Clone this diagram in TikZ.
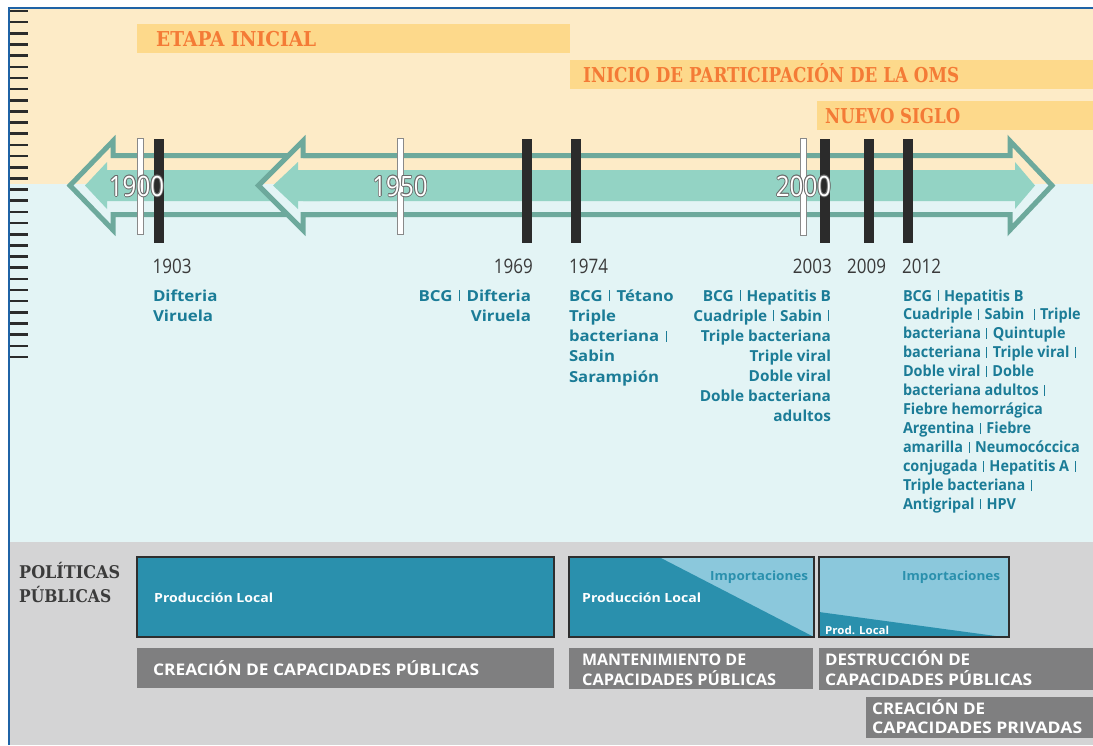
\documentclass[tikz,border=0pt]{standalone}
\usepackage{fontspec}
\usepackage{graphicx}
\setmainfont{Open Sans}
\newfontfamily\slabfont{DejaVu Serif}
\definecolor{bgY}{HTML}{FDEBC7}
\definecolor{bgB}{HTML}{E3F4F5}
\definecolor{bgG}{HTML}{D4D4D5}
\definecolor{bannerC}{HTML}{FDD98B}
\definecolor{orangeT}{HTML}{F47B36}
\definecolor{frameB}{HTML}{1F63A6}
\definecolor{arrowL}{HTML}{6DA99C}
\definecolor{arrowF}{HTML}{93D3C4}
\definecolor{barK}{HTML}{2B2B2B}
\definecolor{vacT}{HTML}{1B7C97}
\definecolor{yearT}{HTML}{3A3A3A}
\definecolor{boxD}{HTML}{2A90AD}
\definecolor{boxL}{HTML}{8BC8DC}
\definecolor{boxK}{HTML}{2E2E2E}
\definecolor{labG}{HTML}{7F7F80}
\definecolor{olc}{HTML}{6B6B6B}
\definecolor{slabT}{HTML}{3B3B3B}
\newcommand\fitw[2]{\resizebox{#1}{\height}{#2}}
\newcommand\vb{\hspace{0.12em}\rule{0.07em}{0.7em}\hspace{0.12em}}
\newcommand\olt[1]{\leavevmode
 \rlap{\color{olc}\hspace*{-1pt}#1}%
 \rlap{\color{olc}\hspace*{1pt}#1}%
 \rlap{\color{olc}\raisebox{1pt}{#1}}%
 \rlap{\color{olc}\raisebox{-1pt}{#1}}%
 \rlap{\color{olc}\hspace*{-0.7pt}\raisebox{0.7pt}{#1}}%
 \rlap{\color{olc}\hspace*{0.7pt}\raisebox{0.7pt}{#1}}%
 \rlap{\color{olc}\hspace*{-0.7pt}\raisebox{-0.7pt}{#1}}%
 \rlap{\color{olc}\hspace*{0.7pt}\raisebox{-0.7pt}{#1}}%
 \textcolor{white}{#1}}
\newcommand\vaccol[7]{%
  \foreach \t [count=\i] in {#7}{%
    \node[vac, anchor=#5] (#1\i) at (#2, #3+#4*\i-#4) {\scalebox{#6}[1]{\t}};}}
\tikzset{
  vac/.style={font=\fontsize{15.2}{18}\selectfont\bfseries, text=vacT, inner sep=0pt, outer sep=0pt},
  yr/.style={font=\fontsize{20}{24}\selectfont, text=yearT, inner sep=0pt},
  ayr/.style={font=\fontsize{28}{32}\selectfont, inner sep=0pt, anchor=base},
  bant/.style={font={\slabfont\fontsize{20.5}{24}\selectfont\bfseries}, text=orangeT, inner sep=0pt, anchor=base west},
  slabl/.style={font={\slabfont\fontsize{17.5}{20}\selectfont\bfseries}, text=slabT, inner sep=0pt, anchor=base west},
  lab/.style={font=\fontsize{16}{19}\selectfont\bfseries, text=white, inner sep=0pt, anchor=base west},
  boxt/.style={font=\fontsize{12.6}{15}\selectfont\bfseries, inner sep=0pt, anchor=base west},
  outl/.style={draw=arrowL, line width=5pt},
  kbar/.style={fill=barK},
  wbar/.style={draw=olc!80, line width=0.8pt, fill=white},
  pframe/.style={draw=boxK, line width=2pt},
}
\begin{document}
\begin{tikzpicture}[x=1pt,y=-1pt]
\useasboundingbox (0,0) rectangle (1093,745);
\fill[white] (0,0) rectangle (1093,745);
% backgrounds
\fill[bgY] (9,8) rectangle (1093,184);
\fill[bgB] (9,184) rectangle (1093,542);
\fill[bgG] (9,542) rectangle (1093,745);
\draw[frameB, line width=2.5pt] (9,745) -- (9,8) -- (1093,8);
% ticks
\foreach \k in {0,...,31}{\draw[barK, line width=2.6pt] (10,11+11.16*\k) -- (28,11+11.16*\k);}
% banners
\fill[bannerC] (137,24) rectangle (570,53);
\fill[bannerC] (570,60) rectangle (1093,89);
\fill[bannerC] (817,101) rectangle (1093,130);
\node[bant] (etapa) at (156,46.5) {\fitw{160pt}{ETAPA INICIAL}};
\node[bant] (oms) at (583,82) {\fitw{376pt}{INICIO DE PARTICIPACIÓN DE LA OMS}};
\node[bant] (siglo) at (825,123) {\fitw{135pt}{NUEVO SIGLO}};
% arrow 1 (left)
\fill[arrowF] (85,185.5) -- (107,162) -- (107,170) -- (320,170) -- (320,201) -- (107,201) -- (107,209) -- cycle;
\draw[outl] (320,155.5) -- (113,155.5) -- (113,141) -- (70,185.5) -- (113,230) -- (113,214.5) -- (320,214.5);
% mask of second head
\begin{scope}
\clip (0,0) rectangle (1093,184);
\fill[bgY] (303,141) -- (258,185.5) -- (303,230) -- cycle;
\end{scope}
\begin{scope}
\clip (0,184) rectangle (1093,745);
\fill[bgB] (303,141) -- (258,185.5) -- (303,230) -- cycle;
\end{scope}
% double arrow
\fill[arrowF] (273,185.5) -- (298,162) -- (298,170) -- (1015,170) -- (1015,162) -- (1035,185.5) -- (1015,209) -- (1015,201) -- (298,201) -- (298,209) -- cycle;
\draw[outl] (303,155.5) -- (303,141) -- (258.5,185.5) -- (303,230) -- (303,214.5) -- (1010,214.5) -- (1010,230) -- (1052,185.5) -- (1010,141) -- (1010,155.5) -- cycle;
% bars
\draw[wbar] (137.5,138) rectangle (143.5,234);
\draw[wbar] (397.5,138) rectangle (403.5,234);
\draw[wbar] (800.5,138) rectangle (806.5,235);
\fill[kbar] (154,139) rectangle (164,243);
\fill[kbar] (522,139) rectangle (531.5,243);
\fill[kbar] (571,139) rectangle (581,243);
\fill[kbar] (820,139) rectangle (830,243);
\fill[kbar] (864,139) rectangle (874,243);
\fill[kbar] (903,139) rectangle (913,243);
% arrow years
\node[ayr] (y1900) at (136.5,196) {\scalebox{0.86}[1]{\olt{1900}}};
\node[ayr] (y1950) at (400,196) {\scalebox{0.86}[1]{\olt{1950}}};
\node[ayr] (y2000) at (803.5,196) {\scalebox{0.86}[1]{\olt{2000}}};
% event years
\node[yr, anchor=base west] (e1903) at (152.5,273) {\scalebox{0.85}[1]{1903}};
\node[yr, anchor=base east] (e1969) at (533,273) {\scalebox{0.85}[1]{1969}};
\node[yr, anchor=base west] (e1974) at (569,273) {\scalebox{0.85}[1]{1974}};
\node[yr, anchor=base east] (e2003) at (832,273) {\scalebox{0.85}[1]{2003}};
\node[yr, anchor=base west] (e2009) at (847,273) {\scalebox{0.85}[1]{2009}};
\node[yr, anchor=base west] (e2012) at (902,273) {\scalebox{0.85}[1]{2012}};
% vaccines
\vaccol{va}{153}{301}{20.5}{base west}{1.11}{Difteria, Viruela}
\vaccol{vb}{531}{301}{20.5}{base east}{1.11}{BCG \vb{} Difteria, Viruela}
\vaccol{vc}{569}{301}{20.25}{base west}{1.1}{BCG \vb{} Tétano, Triple, bacteriana \vb, Sabin, Sarampión}
\vaccol{vd}{831}{301}{20}{base east}{1.01}{BCG \vb{} Hepatitis B, Cuadriple \vb{} Sabin \vb, Triple bacteriana, Triple viral, Doble viral, Doble bacteriana, adultos}
\vaccol{ve}{903}{301}{18.95}{base west}{0.95}{BCG \vb{} Hepatitis B, Cuadriple \vb{} Sabin \ \vb{} Triple, bacteriana \vb{} Quintuple, bacteriana \vb{} Triple viral \vb, Doble viral \vb{} Doble, bacteriana adultos \vb, Fiebre hemorrágica, Argentina \vb{} Fiebre, amarilla \vb{} Neumocóccica, conjugada \vb{} Hepatitis A \vb, Triple bacteriana \vb, Antigripal \vb{} HPV}
% politicas
\node[slabl] (pol1) at (19,578) {\fitw{101pt}{POLÍTICAS}};
\node[slabl] (pol2) at (19,602) {\fitw{92pt}{PÚBLICAS}};
% box 1
\fill[boxD] (137,557) rectangle (554,637);
\draw[pframe] (137,557) rectangle (554,637);
\node[boxt, text=white] (pl1) at (154,602) {\fitw{119pt}{Producción Local}};
% box 2
\fill[boxL] (569,557) rectangle (814,637);
\fill[boxD] (569,557) -- (659,557) -- (814,637) -- (569,637) -- cycle;
\draw[pframe] (569,557) rectangle (814,637);
\node[boxt, text=boxD] (im2) at (710,580) {\fitw{98pt}{Importaciones}};
\node[boxt, text=white] (pl2) at (582,602) {\fitw{119pt}{Producción Local}};
% box 3
\fill[boxL] (819,557) rectangle (1009,637);
\fill[boxD] (819,612) -- (1003,637) -- (819,637) -- cycle;
\draw[pframe] (819,557) rectangle (1009,637);
\node[boxt, text=boxD] (im3) at (902,580) {\fitw{98pt}{Importaciones}};
\node[boxt, text=white, font=\fontsize{11}{13}\selectfont\bfseries] (pl3) at (825,634) {\fitw{64pt}{Prod. Local}};
% label boxes
\fill[labG] (137,648) rectangle (554,688);
\node[lab] (l1) at (153,675) {\fitw{326pt}{CREACIÓN DE CAPACIDADES PÚBLICAS}};
\fill[labG] (569,648) rectangle (813,689);
\node[lab] (l2a) at (582,665.5) {\fitw{164pt}{MANTENIMIENTO DE}};
\node[lab] (l2b) at (582,685) {\fitw{194pt}{CAPACIDADES PÚBLICAS}};
\fill[labG] (819,648) rectangle (1093,690);
\node[lab] (l3a) at (825,665.5) {\fitw{145pt}{DESTRUCCIÓN DE}};
\node[lab] (l3b) at (825,685) {\fitw{207pt}{CAPACIDADES PÚBLICAS}};
\fill[labG] (866,697) rectangle (1093,738);
\node[lab] (l4a) at (872,714.5) {\fitw{113pt}{CREACIÓN DE}};
\node[lab] (l4b) at (872,733.5) {\fitw{210pt}{CAPACIDADES PRIVADAS}};
\end{tikzpicture}
\end{document}
